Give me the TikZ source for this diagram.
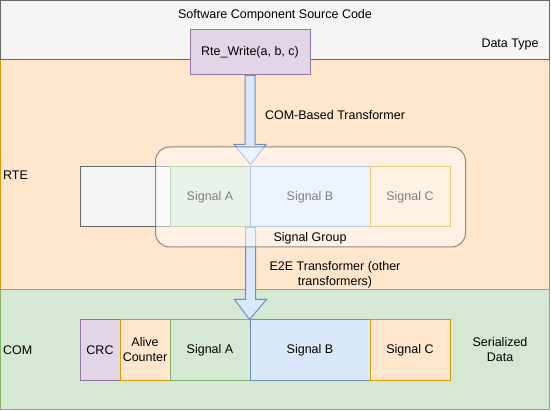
\documentclass[tikz,border=0pt]{standalone}
\usepackage{fontspec}
\setmainfont{Liberation Sans}
\usetikzlibrary{calc}
\definecolor{grayF}{HTML}{F5F5F5}
\definecolor{grayS}{HTML}{666666}
\definecolor{orF}{HTML}{FFE6CC}
\definecolor{orS}{HTML}{D79B00}
\definecolor{grF}{HTML}{D5E8D4}
\definecolor{grS}{HTML}{82B366}
\definecolor{blF}{HTML}{DAE8FC}
\definecolor{blS}{HTML}{6C8EBF}
\definecolor{puF}{HTML}{E1D5E7}
\definecolor{puS}{HTML}{9673A6}
\tikzset{
  cell/.style={draw, line width=1pt, rectangle, inner sep=0pt, align=center,
    minimum height=60pt},
  lbl/.style={inner sep=0pt, align=center},
  fatarr/.style={draw=blS, fill=blF, line width=1pt, line join=miter},
}
\newcommand\fatarrow[2]{%
  \draw[fatarr] let \p1=(#1), \p2=(#2) in
    (\x1-5pt,\y1) -- (\x1-5pt,\y2+20pt) -- (\x1-16pt,\y2+20pt) -- (\x2,\y2)
    -- (\x1+16pt,\y2+20pt) -- (\x1+5pt,\y2+20pt) -- (\x1+5pt,\y1) -- cycle;}
\begin{document}
\begin{tikzpicture}[x=1pt,y=-1pt,font=\fontsize{12.5}{15}\selectfont]
\useasboundingbox (0,0) rectangle (551,411);
% bands
\draw[line width=1pt, draw=grS, fill=grF] (0.5,290) rectangle (549.5,409.5);
\draw[line width=1pt, draw=orS, fill=orF] (0.5,60) rectangle (549.5,290);
\draw[line width=1pt, draw=grayS, fill=grayF] (0.5,0.5) rectangle (549.5,60);
\node[lbl] (title) at (275,15) {Software Component Source Code};
\node[lbl] (dtype) at (510,45) {Data Type};
\node[lbl, anchor=west] (rte) at (3,175) {RTE};
\node[lbl, anchor=west] (com) at (3,350) {COM};
\node[lbl] (ser) at (500,350) {Serialized\\Data};
% source code box
\node[cell, fill=puF, draw=puS, minimum width=120pt, minimum height=45pt] (rw) at (250,52.5) {Rte\_Write(a, b, c)};
% RTE row
\node[cell, fill=grayF, draw=grayS, minimum width=90pt] (lb) at (125,197) {};
\node[cell, fill=grF, draw=grS, minimum width=80pt] (rA) at (210,197) {Signal A};
\node[cell, fill=blF, draw=blS, minimum width=120pt] (rB) at (310,197) {Signal B};
\node[cell, fill=orF, draw=orS, minimum width=80pt] (rC) at (410,197) {Signal C};
% COM row
\node[cell, fill=puF, draw=puS, minimum width=40pt] (crc) at (100,350) {CRC};
\node[cell, fill=orF, draw=orS, minimum width=50pt] (alive) at (145,350) {Alive\\Counter};
\node[cell, fill=grF, draw=grS, minimum width=80pt] (cA) at (210,350) {Signal A};
\node[cell, fill=blF, draw=blS, minimum width=120pt] (cB) at (310,350) {Signal B};
\node[cell, fill=orF, draw=orS, minimum width=80pt] (cC) at (410,350) {Signal C};
% arrows
\coordinate (tip1) at ($(rA.north east)+(0,-2)$);
\fatarrow{rw.south}{tip1}
\fatarrow{rA.south east}{cB.north west}
% signal group overlay
\node[draw=grayS, draw opacity=0.75, fill=white, fill opacity=0.5, line width=1pt,
  rounded corners=14pt, minimum width=310pt, minimum height=100pt, inner sep=0pt] (grp) at (310.5,197) {};
\node[lbl] (grplbl) at (310,238) {Signal Group};
\node[lbl] (t1) at (335,115) {COM-Based Transformer};
\node[lbl] (t2) at (335,275) {E2E Transformer (other\\transformers)};
\end{tikzpicture}
\end{document}
